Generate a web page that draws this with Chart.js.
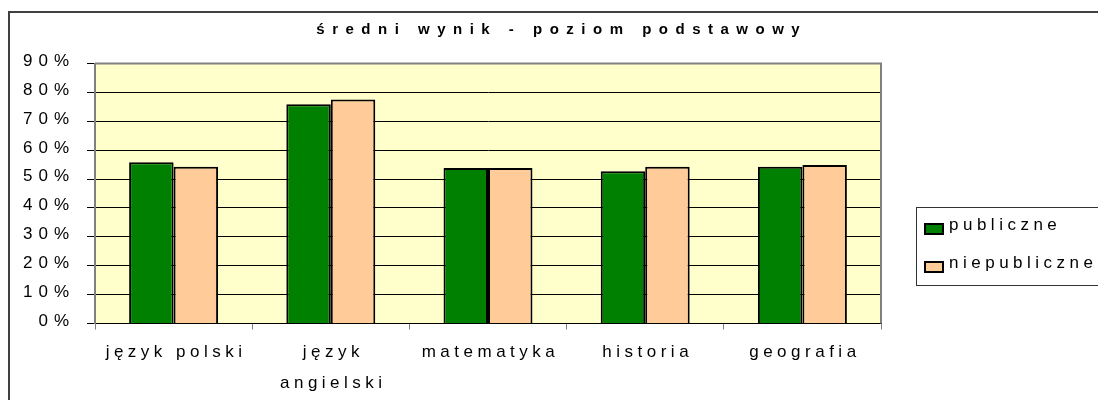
<!DOCTYPE html>
<html lang="pl">
<head>
<meta charset="utf-8">
<title>średni wynik - poziom podstawowy</title>
<script src="https://cdn.jsdelivr.net/npm/chart.js@4.4.1/dist/chart.umd.min.js"></script>
<style>
  html, body { margin: 0; padding: 0; background: #fff; overflow: hidden; }
  body { width: 1098px; height: 400px; position: relative; font-family: 'Liberation Sans', Arial, sans-serif; }
  #frame {
    position: absolute; left: 8px; top: 11px; width: 1200px; height: 500px;
    border-left: 2px solid #404040; border-top: 2px solid #404040;
  }
  #chart { position: absolute; left: 0; top: 0; }
  #title {
    position: absolute; left: 0; top: 19.5px; width: 1116px; box-sizing: border-box;
    padding-left: 7.5px; text-align: center; white-space: nowrap;
    font-weight: bold; font-size: 15px; line-height: 18px; letter-spacing: 7.5px; color: #000;
  }
  #legend {
    position: absolute; left: 916px; top: 207px; width: 260px; height: 79px;
    box-sizing: border-box; border: 1px solid #333;
  }
  .swatch { position: absolute; left: 7px; width: 20px; height: 12px; box-sizing: border-box; border: 2px solid #000; }
  .label  { position: absolute; left: 32px; font-size: 17px; line-height: 18px; letter-spacing: 4.5px; white-space: nowrap; color: #000; }
</style>
</head>
<body>
<div id="frame"></div>
<canvas id="chart" width="1098" height="400"></canvas>
<div id="title"></div>
<div id="legend"></div>

<script>
/* ── Data ──────────────────────────────────────────────────── */
const titleText    = 'średni wynik - poziom podstawowy';
const categories   = ['język polski', ['język', 'angielski'], 'matematyka', 'historia', 'geografia'];
const seriesNames  = ['publiczne', 'niepubliczne'];
const publiczne    = [55.8, 75.9, 53.8, 52.7, 54.3];
const niepubliczne = [54.3, 77.5, 53.8, 54.3, 54.9];
const yTickLabels  = ['0%', '10%', '20%', '30%', '40%', '50%', '60%', '70%', '80%', '90%'];

const colors = ['#008000', '#FFCC99'];

/* ── Title + legend (Excel style, boxed legend) ────────────── */
document.getElementById('title').textContent = titleText;

const legendEl = document.getElementById('legend');
legendEl.innerHTML = seriesNames.map((name, i) => `
  <div class="swatch" style="top:${15 + i * 38}px;background:${colors[i]}"></div>
  <div class="label" style="top:${8 + i * 38}px">${name}</div>
`).join('');

/* ── Plot background, plot border, letter spacing ──────────── */
const excelLook = {
  id: 'excelLook',
  beforeUpdate(chart) {
    chart.ctx.letterSpacing = '4.5px';
  },
  beforeDraw(chart) {
    const { ctx, chartArea: a } = chart;
    ctx.save();
    ctx.fillStyle = '#FFFFCC';
    ctx.fillRect(a.left, a.top, a.right - a.left, a.bottom - a.top);
    ctx.restore();
    ctx.letterSpacing = '4.5px';   /* x labels */
  },
  afterDatasetsDraw(chart) {
    const { ctx, chartArea: a } = chart;
    ctx.save();
    ctx.strokeStyle = '#808080';
    ctx.lineWidth = 2;
    ctx.beginPath();
    ctx.moveTo(a.left, a.top);
    ctx.lineTo(a.right, a.top);
    ctx.lineTo(a.right, a.bottom);
    ctx.stroke();
    ctx.restore();
    ctx.letterSpacing = '6px';     /* y labels are drawn after this (ticks.z = 1) */
  }
};

const tickFont = { family: "'Liberation Sans', Arial, sans-serif", size: 17 };

new Chart(document.getElementById('chart'), {
  type: 'bar',
  data: {
    labels: categories,
    datasets: [
      {
        label: seriesNames[0],
        data: publiczne,
        backgroundColor: colors[0],
        borderColor: '#000',
        borderWidth: 2,
        categoryPercentage: 0.566,
        barPercentage: 1,
      },
      {
        label: seriesNames[1],
        data: niepubliczne,
        backgroundColor: colors[1],
        borderColor: '#000',
        borderWidth: 2,
        categoryPercentage: 0.566,
        barPercentage: 1,
      }
    ]
  },
  options: {
    responsive: false,
    animation: false,
    devicePixelRatio: 1,
    layout: { padding: { top: 63.5, right: 217, left: 0, bottom: 0 } },
    plugins: {
      legend: { display: false },
      title: { display: false },
      tooltip: { enabled: false },
    },
    scales: {
      x: {
        grid: { offset: true, drawOnChartArea: false, drawTicks: true, tickLength: 6, color: '#808080' },
        border: { color: '#000', width: 1 },
        ticks: {
          color: '#000',
          font: { ...tickFont, lineHeight: '31px' },
          padding: 7.4,
          labelOffset: 2.5,
          maxRotation: 0,
          autoSkip: false,
        },
        afterFit: s => { s.height = 76.5; },
      },
      y: {
        min: 0,
        max: 90,
        grid: { color: '#000', lineWidth: 1, tickLength: 8 },
        border: { color: '#808080', width: 2 },
        ticks: {
          z: 1,
          stepSize: 10,
          color: '#000',
          font: tickFont,
          padding: 12,
          labelOffset: -2.3,
          callback: (v, i) => yTickLabels[i],
        },
        afterFit: s => { s.width = 95; },
      }
    }
  },
  plugins: [excelLook]
});
</script>
</body>
</html>
